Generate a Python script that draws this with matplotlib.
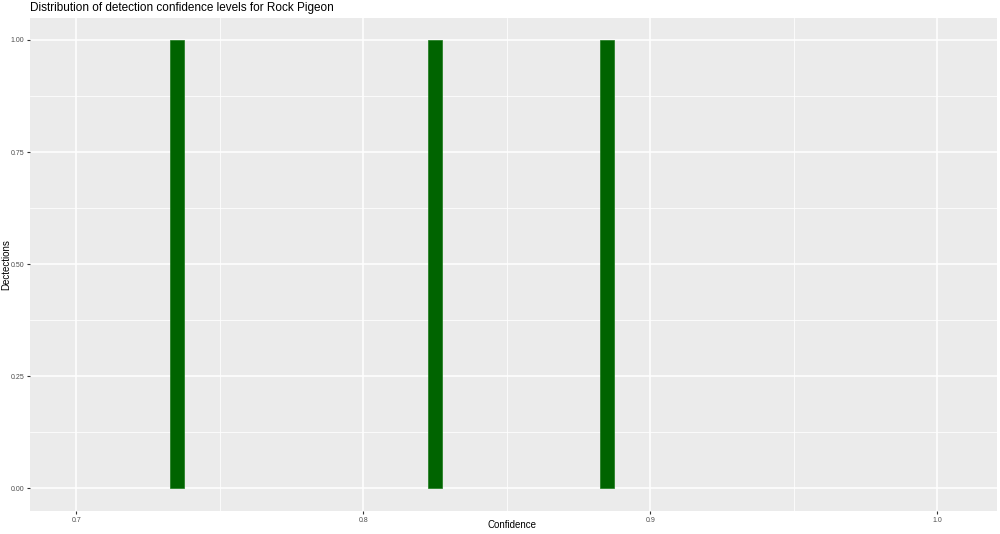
import matplotlib
matplotlib.use("Agg")
import matplotlib.pyplot as plt
from matplotlib.ticker import MultipleLocator

# Data
bin_centers = [0.735, 0.825, 0.885]
counts = [1, 1, 1]
bin_width = 0.0049
x_ticks = [0.7, 0.8, 0.9, 1.0]
x_tick_labels = ["0.7", "0.8", "0.9", "1.0"]
y_ticks = [0.0, 0.25, 0.5, 0.75, 1.0]
y_tick_labels = ["0.00", "0.25", "0.50", "0.75", "1.00"]
title = "Distribution of detection confidence levels for Rock Pigeon"

plt.rcParams['font.family'] = ['Liberation Sans', 'DejaVu Sans']

fig = plt.figure(figsize=(10, 5.34), dpi=100)
ax = fig.add_axes([30/1000, 1 - 511/534, 967/1000, 493/534])
ax.set_facecolor("#EBEBEB")

ax.bar(bin_centers, counts, width=bin_width, color="#006400", edgecolor="#1a7a1a",
       linewidth=0.5, zorder=3)

ax.set_xlim(0.6838, 1.0209)
ax.set_ylim(-0.051, 1.049)
ax.set_xticks(x_ticks)
ax.set_xticklabels(x_tick_labels)
ax.set_yticks(y_ticks)
ax.set_yticklabels(y_tick_labels)
ax.xaxis.set_minor_locator(MultipleLocator(0.05))
ax.yaxis.set_minor_locator(MultipleLocator(0.125))

ax.grid(which="major", color="white", linewidth=1.1, zorder=1)
ax.grid(which="minor", color="white", linewidth=0.55, zorder=1)
ax.set_axisbelow(True)
for s in ax.spines.values():
    s.set_visible(False)

ax.tick_params(which="major", length=2.5, width=0.8, color="#333333",
               labelsize=5, labelcolor="#4D4D4D", pad=1.5)
ax.tick_params(which="minor", length=0)

fig.text(512/1000, 1 - 525/534, "Confidence", fontsize=7, ha="center", va="center")
fig.text(6/1000, 1 - 265/534, "Dectections", fontsize=7, ha="center", va="center",
         rotation=90)
fig.text(30/1000, 1 - 8/534, title, fontsize=8.5, ha="left", va="center")

fig.savefig("out.png", dpi=100)
